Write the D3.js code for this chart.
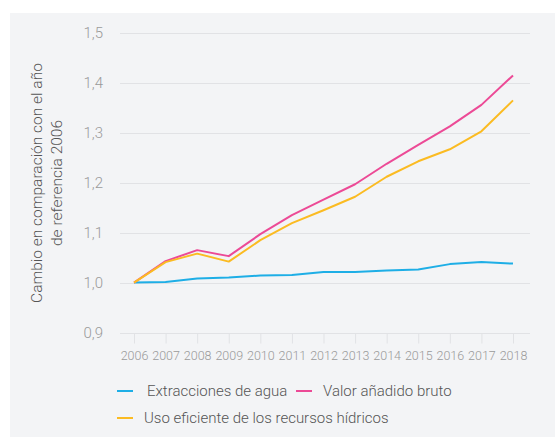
<!DOCTYPE html>
<html>
<head>
<meta charset="utf-8">
<script src="https://cdn.jsdelivr.net/npm/d3@7"></script>
<style>
  body { margin: 0; background: #fff; }
  svg { display: block; font-family: Roboto, "Noto Sans", sans-serif; }
</style>
</head>
<body>
<svg id="chart" width="555" height="437"></svg>
<script>
var years = [2006, 2007, 2008, 2009, 2010, 2011, 2012, 2013, 2014, 2015, 2016, 2017, 2018];
var extracciones = [1.000, 1.001, 1.008, 1.010, 1.014, 1.015, 1.021, 1.021, 1.024, 1.026, 1.037, 1.041, 1.038];
var valorAnadido = [1.000, 1.043, 1.065, 1.053, 1.097, 1.135, 1.166, 1.197, 1.238, 1.276, 1.313, 1.356, 1.415];
var usoEficiente = [1.000, 1.041, 1.058, 1.042, 1.085, 1.119, 1.145, 1.172, 1.212, 1.243, 1.267, 1.303, 1.365];
var yTicks = [0.9, 1.0, 1.1, 1.2, 1.3, 1.4, 1.5];

var series = [
  { name: "Extracciones de agua", values: extracciones, color: "#1eaee6" },
  { name: "Valor añadido bruto", values: valorAnadido, color: "#ec4a96" },
  { name: "Uso eficiente de los recursos hídricos", values: usoEficiente, color: "#fbbb22" }
];

var svg = d3.select("#chart");

// panel background
svg.append("rect").attr("x", 10).attr("y", 13).attr("width", 545).attr("height", 424).attr("fill", "#f3f4f6");

var x = d3.scalePoint().domain(years).range([134, 513]);
var y = d3.scaleLinear().domain([0.9, 1.5]).range([332.5, 33]);
var fmt = function(d) { return d3.format(".1f")(d).replace(".", ","); };

// grid lines
svg.append("g").selectAll("line").data(yTicks).join("line")
  .attr("x1", 120).attr("x2", 530)
  .attr("y1", function(d) { return Math.round(y(d)) + 0.5; })
  .attr("y2", function(d) { return Math.round(y(d)) + 0.5; })
  .attr("stroke", "#e1e2e5").attr("stroke-width", 1);

// y labels
svg.append("g").selectAll("text").data(yTicks).join("text")
  .attr("x", 103).attr("y", function(d) { return y(d); })
  .attr("dy", "0.35em").attr("text-anchor", "end")
  .attr("font-size", 15).attr("font-weight", 300).attr("fill", "#9a9a9a")
  .text(fmt);

// x axis
var xAxis = svg.append("g").attr("transform", "translate(0," + (Math.round(y(0.9)) + 0.5) + ")")
  .call(d3.axisBottom(x).tickSize(10).tickPadding(8).tickSizeOuter(0));
xAxis.select(".domain").remove();
xAxis.selectAll(".tick line").attr("stroke", "#e1e2e5");
xAxis.selectAll(".tick text").attr("font-size", 12.5).attr("font-family", "Roboto, sans-serif")
  .attr("font-weight", 300).attr("fill", "#9a9a9a");

// y axis title
var title = svg.append("text").attr("transform", "translate(0,183) rotate(-90)")
  .attr("text-anchor", "middle").attr("font-size", 15.5).attr("font-weight", 300).attr("fill", "#555");
title.append("tspan").attr("x", 0).attr("y", 42).text("Cambio en comparación con el año");
title.append("tspan").attr("x", 0).attr("y", 62).text("de referencia 2006");

// lines
var line = d3.line()
  .x(function(d, i) { return x(years[i]); })
  .y(function(d) { return y(d); });

svg.append("g").selectAll("path").data(series).join("path")
  .attr("d", function(s) { return line(s.values); })
  .attr("fill", "none")
  .attr("stroke", function(s) { return s.color; })
  .attr("stroke-width", 2)
  .attr("stroke-linejoin", "round");

// legend
var legendPos = [
  { x: 117, y: 391, tx: 147 },
  { x: 296, y: 391, tx: 323 },
  { x: 117, y: 418, tx: 144 }
];
var legend = svg.append("g").selectAll("g").data(series).join("g");
legend.append("line")
  .attr("x1", function(s, i) { return legendPos[i].x; })
  .attr("x2", function(s, i) { return legendPos[i].x + 16; })
  .attr("y1", function(s, i) { return legendPos[i].y; })
  .attr("y2", function(s, i) { return legendPos[i].y; })
  .attr("stroke", function(s) { return s.color; }).attr("stroke-width", 2);
legend.append("text")
  .attr("x", function(s, i) { return legendPos[i].tx; })
  .attr("y", function(s, i) { return legendPos[i].y; })
  .attr("dy", "0.35em").attr("font-size", 15).attr("font-weight", 300).attr("fill", "#555")
  .text(function(s) { return s.name; });
</script>
</body>
</html>
